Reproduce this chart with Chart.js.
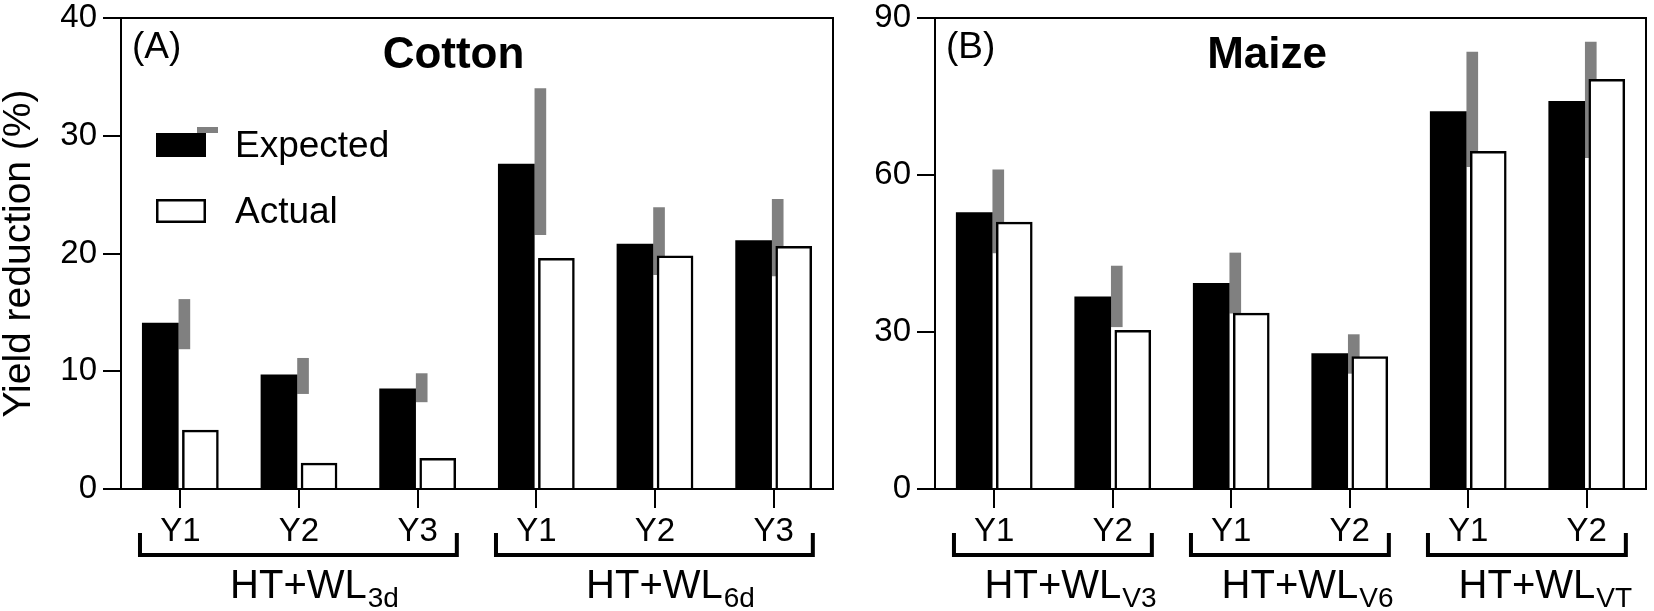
<!DOCTYPE html>
<html><head><meta charset="utf-8">
<script src="https://cdn.jsdelivr.net/npm/chart.js@4/dist/chart.umd.min.js"></script>
<style>
html,body{margin:0;padding:0;background:#fff;width:1654px;height:611px;overflow:hidden}
#wrap{position:relative;width:1654px;height:611px;background:#fff}
canvas{position:absolute;top:0}
#cA{left:0}
#cB{left:840px}
</style></head><body>
<div id="wrap"><canvas id="cA" width="840" height="611"></canvas><canvas id="cB" width="814" height="611"></canvas></div>
<script>
// ---------- DATA ----------
const cottonLabels   = ['Y1','Y2','Y3','Y1','Y2','Y3'];
const cottonExpected = [14.1, 9.7, 8.5, 27.6, 20.8, 21.1];
const cottonActual   = [5.0, 2.2, 2.6, 19.6, 19.8, 20.6];
const cottonRangeLow = [11.9, 8.1, 7.4, 21.6, 18.2, 18.1];
const cottonRangeHigh= [16.1, 11.1, 9.8, 34.0, 23.9, 24.6];
const cottonGroupSubs  = ['3d','6d'];
const cottonGroupSizes = [3,3];
const cottonTicks = [0,10,20,30,40];

const maizeLabels   = ['Y1','Y2','Y1','Y2','Y1','Y2'];
const maizeExpected = [52.8, 36.7, 39.3, 25.9, 72.1, 74.1];
const maizeActual   = [51.0, 30.3, 33.6, 25.3, 64.5, 78.3];
const maizeRangeLow = [45.1, 31.0, 33.6, 22.1, 61.6, 63.3];
const maizeRangeHigh= [61.0, 42.6, 45.1, 29.5, 83.5, 85.4];
const maizeGroupSubs  = ['V3','V6','VT'];
const maizeGroupSizes = [2,2,2];
const maizeTicks = [0,30,60,90];

const groupMain = 'HT+WL';
const FAM = "'Liberation Sans', Arial, Helvetica, sans-serif";

// ---------- DECORATION PLUGIN ----------
const decor = {
  id: 'decor',
  afterDraw(chart, args, o) {
    const {ctx, chartArea: ca, scales} = chart;
    const x = scales.x;
    ctx.save();
    ctx.strokeStyle = '#000'; ctx.lineWidth = 2;
    ctx.beginPath();
    ctx.moveTo(ca.left, ca.top); ctx.lineTo(ca.right, ca.top); ctx.lineTo(ca.right, ca.bottom);
    ctx.stroke();

    ctx.fillStyle = '#000';
    ctx.textAlign = 'left'; ctx.textBaseline = 'alphabetic';
    ctx.font = `37px ${FAM}`;
    ctx.fillText(o.letter, ca.left + 11, 58);
    ctx.font = `bold 44px ${FAM}`;
    ctx.textAlign = 'center';
    ctx.fillText(o.crop, ca.left + (ca.right - ca.left) * 0.467, 68);

    const half = (x.getPixelForValue(1) - x.getPixelForValue(0)) / 2;
    let idx = 0;
    o.subs.forEach((sub, k) => {
      const n = o.sizes[k];
      const x0 = x.getPixelForValue(idx) - half * 0.68;
      const x1 = x.getPixelForValue(idx + n - 1) + half * 0.66;
      const yTop = ca.bottom + 44, yBot = ca.bottom + 68;
      ctx.strokeStyle = '#000'; ctx.lineWidth = 4; ctx.lineCap = 'butt';
      ctx.beginPath();
      ctx.moveTo(x0, yTop); ctx.lineTo(x0, yBot - 2); ctx.lineTo(x1, yBot - 2); ctx.lineTo(x1, yTop);
      ctx.stroke();
      const cx = (x0 + x1) / 2;
      ctx.font = `40px ${FAM}`;
      const w = ctx.measureText(groupMain).width;
      ctx.textAlign = 'left';
      ctx.fillText(groupMain, cx - w / 2, ca.bottom + 109);
      ctx.font = `28px ${FAM}`;
      ctx.fillText(sub, cx + w / 2 + 1, ca.bottom + 118);
      idx += n;
    });

    if (o.legend) {
      const lx = 156;
      ctx.fillStyle = '#000';
      ctx.fillRect(lx, 133, 50, 24);
      ctx.fillStyle = '#808080';
      ctx.fillRect(lx + 41, 127, 21, 6);
      ctx.fillStyle = '#fff';
      ctx.fillRect(lx, 199, 50, 24);
      ctx.strokeStyle = '#000'; ctx.lineWidth = 2.5;
      ctx.strokeRect(lx + 1.25, 199 + 1.25, 50 - 2.5, 24 - 2.5);
      ctx.fillStyle = '#000';
      ctx.font = `37px ${FAM}`;
      ctx.textAlign = 'left';
      ctx.fillText('Expected', 235, 157);
      ctx.fillText('Actual', 235, 223);
    }
    ctx.restore();
  }
};

// hidden linear x axis, shifted by `s` category widths (positive = left)
function hiddenX(n, s) {
  return {type: 'linear', display: false, offset: false, min: -0.5 + s, max: n - 0.5 + s,
          ticks: {stepSize: 1, includeBounds: false}, grid: {display: false}};
}

function makeChart(id, cfg) {
  const n = cfg.labels.length;
  const barW = 36;
  const idxData = arr => arr.map((v, i) => ({x: i, y: v}));
  return new Chart(document.getElementById(id), {
    type: 'bar',
    data: {
      labels: cfg.labels,
      datasets: [
        {label: 'Expected', data: idxData(cfg.expected), backgroundColor: '#000', borderWidth: 0,
         xAxisID: 'xE', grouped: false, order: 0, barPercentage: 1, categoryPercentage: 1, maxBarThickness: barW},
        {label: 'Actual', data: idxData(cfg.actual), backgroundColor: '#fff', borderColor: '#000', borderWidth: 2.5,
         xAxisID: 'xA', grouped: false, order: 0, barPercentage: 1, categoryPercentage: 1, maxBarThickness: barW},
        {label: 'Range', data: cfg.low.map((lo, i) => ({x: i, y: [lo, cfg.high[i]]})),
         backgroundColor: '#808080', borderWidth: 0, xAxisID: 'xR', grouped: false, order: 1,
         barPercentage: 1, categoryPercentage: 1, maxBarThickness: 11}
      ]
    },
    options: {
      responsive: false, animation: false, devicePixelRatio: 1,
      layout: {padding: {left: 0, right: cfg.padRight, top: 18, bottom: 0}},
      plugins: {legend: {display: false}, tooltip: {enabled: false}, decor: cfg.decor},
      scales: {
        x: {
          type: 'category', offset: true,
          grid: {offset: false, drawOnChartArea: false, drawTicks: true, tickLength: 19, color: '#000', lineWidth: 2},
          border: {display: true, color: '#000', width: 2},
          ticks: {font: {size: 33, family: FAM}, color: '#000', padding: 4, maxRotation: 0, autoSkip: false},
          afterFit: s => { s.height = 122; s.paddingLeft = 0; s.paddingRight = 0; }
        },
        xE: hiddenX(n, 0.169),
        xA: hiddenX(n, -0.169),
        xR: hiddenX(n, -0.034),
        y: {
          min: 0, max: cfg.ticks[cfg.ticks.length - 1],
          afterBuildTicks: s => { s.ticks = cfg.ticks.map(v => ({value: v})); },
          ticks: {font: {size: 33, family: FAM}, color: '#000', padding: 6},
          grid: {drawOnChartArea: false, drawTicks: true, tickLength: 18, color: '#000', lineWidth: 2},
          border: {display: true, color: '#000', width: 2},
          title: cfg.yTitle ? {display: true, text: cfg.yTitle, font: {size: 39, family: FAM}, color: '#000', padding: {top: -4, bottom: 0}} : {display: false},
          afterFit: s => { s.width = cfg.yWidth; s.paddingTop = 0; s.paddingBottom = 0; }
        }
      }
    },
    plugins: [decor]
  });
}

makeChart('cA', {
  labels: cottonLabels, expected: cottonExpected, actual: cottonActual,
  low: cottonRangeLow, high: cottonRangeHigh, ticks: cottonTicks,
  yTitle: 'Yield reduction (%)', yWidth: 121, padRight: 7,
  decor: {letter: '(A)', crop: 'Cotton', subs: cottonGroupSubs, sizes: cottonGroupSizes, legend: true}
});
makeChart('cB', {
  labels: maizeLabels, expected: maizeExpected, actual: maizeActual,
  low: maizeRangeLow, high: maizeRangeHigh, ticks: maizeTicks,
  yTitle: null, yWidth: 95, padRight: 8,
  decor: {letter: '(B)', crop: 'Maize', subs: maizeGroupSubs, sizes: maizeGroupSizes, legend: false}
});
</script>
</body></html>
